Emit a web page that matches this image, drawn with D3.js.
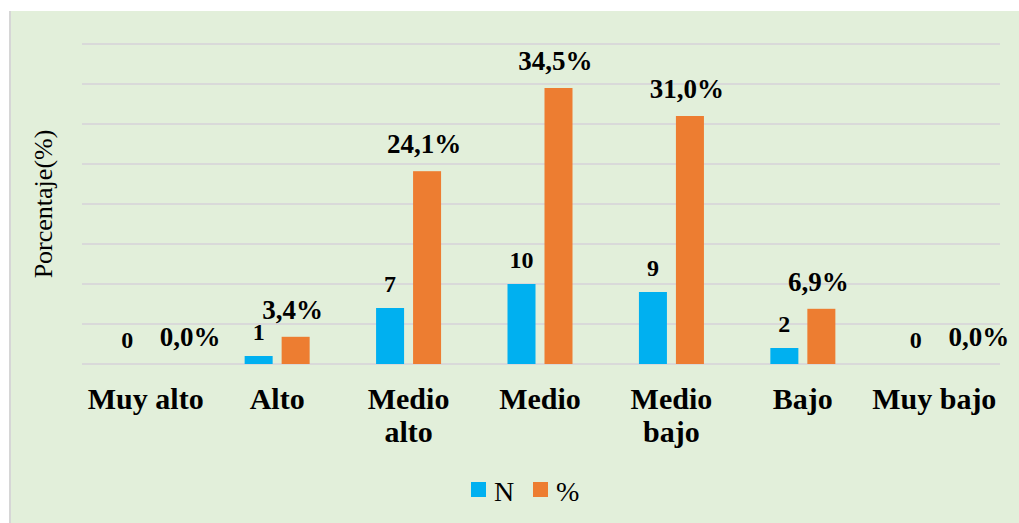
<!DOCTYPE html>
<html>
<head>
<meta charset="utf-8">
<script src="https://cdn.jsdelivr.net/npm/d3@7"></script>
<style>
  body { margin: 0; background: #fff; }
  text { font-family: "Liberation Serif", "Times New Roman", serif; fill: #000; }
</style>
</head>
<body>
<div id="chart"></div>
<script>
const categories = ["Muy alto", "Alto", "Medio alto", "Medio", "Medio bajo", "Bajo", "Muy bajo"];
const categoryLines = [["Muy alto"], ["Alto"], ["Medio", "alto"], ["Medio"], ["Medio", "bajo"], ["Bajo"], ["Muy bajo"]];
const nValues = [0, 1, 7, 10, 9, 2, 0];
const pctValues = [0, 3.4, 24.1, 34.5, 31.0, 6.9, 0];
const seriesNames = ["N", "%"];
const yTicks = [0, 5, 10, 15, 20, 25, 30, 35, 40];

const width = 1019;
const height = 523;

const svg = d3.select("#chart")
    .append("svg")
    .attr("width", width)
    .attr("height", height);

// chart area background
svg.append("rect")
    .attr("x", 9)
    .attr("y", 11)
    .attr("width", width - 9)
    .attr("height", height - 11)
    .attr("fill", "#e2efda");

svg.append("line")
    .attr("x1", 10).attr("x2", 10)
    .attr("y1", 11).attr("y2", height)
    .attr("stroke", "#d6d6d6")
    .attr("stroke-width", 2);

const x0 = d3.scaleBand()
    .domain(categories)
    .range([80, 1000]);

const x1 = d3.scaleBand()
    .domain(seriesNames)
    .range([x0.bandwidth() / 2 - 32.5, x0.bandwidth() / 2 + 32.5])
    .paddingInner(0.243);

const y = d3.scaleLinear()
    .domain([0, 40])
    .range([364, 44]);

const color = d3.scaleOrdinal()
    .domain(seriesNames)
    .range(["#00b0f0", "#ed7d31"]);

// gridlines
svg.append("g")
    .selectAll("line")
    .data(yTicks)
    .enter()
    .append("line")
    .attr("x1", 82)
    .attr("x2", 1000)
    .attr("y1", d => y(d))
    .attr("y2", d => y(d))
    .attr("stroke", "#d9d9d9")
    .attr("stroke-width", 2);

const rows = categories.map((c, i) => ({
    cat: c,
    values: [
        { key: "N", value: nValues[i] },
        { key: "%", value: pctValues[i] }
    ]
}));

const groups = svg.selectAll(".grp")
    .data(rows)
    .enter()
    .append("g")
    .attr("class", "grp")
    .attr("transform", d => `translate(${x0(d.cat)},0)`);

groups.selectAll("rect")
    .data(d => d.values)
    .enter()
    .append("rect")
    .attr("x", d => x1(d.key))
    .attr("width", x1.bandwidth())
    .attr("y", d => y(d.value))
    .attr("height", d => y(0) - y(d.value))
    .attr("fill", d => color(d.key));

const fmtPct = v => d3.format(".1f")(v).replace(".", ",") + "%";

groups.selectAll(".lbl")
    .data(d => d.values)
    .enter()
    .append("text")
    .attr("class", "lbl")
    .attr("text-anchor", "middle")
    .attr("font-weight", "bold")
    .attr("font-size", d => d.key === "N" ? "24px" : "27px")
    .attr("x", d => x1(d.key) + x1.bandwidth() / 2 + (d.key === "%" && d.value === 0 ? 29 : 0) - (d.key === "%" ? 3 : 0))
    .attr("y", d => y(d.value) - (d.key === "N" ? 16 : 18))
    .text(d => d.key === "N" ? d.value : fmtPct(d.value));

// category axis
const xAxis = svg.append("g")
    .attr("transform", "translate(0,364)")
    .call(d3.axisBottom(x0).tickSize(0).tickPadding(0));

xAxis.select(".domain").remove();

xAxis.selectAll(".tick text")
    .attr("font-family", "Liberation Serif, Times New Roman, serif")
    .attr("font-size", "30px")
    .attr("font-weight", "bold")
    .attr("fill", "#000")
    .attr("dy", null)
    .attr("y", 45)
    .text(null)
    .each(function(d) {
        const lines = categoryLines[categories.indexOf(d)];
        d3.select(this).selectAll("tspan")
            .data(lines)
            .enter()
            .append("tspan")
            .attr("x", 0)
            .attr("dy", (l, i) => i === 0 ? 0 : 33)
            .text(l => l);
    });

// y axis title
svg.append("text")
    .attr("transform", "translate(52,204) rotate(-90)")
    .attr("text-anchor", "middle")
    .attr("font-size", "26px")
    .text("Porcentaje(%)");

// legend
const legend = svg.append("g")
    .selectAll("g")
    .data(seriesNames)
    .enter()
    .append("g")
    .attr("transform", (d, i) => `translate(${471 + i * 62},482)`);

legend.append("rect")
    .attr("width", 15)
    .attr("height", 15)
    .attr("fill", d => color(d));

legend.append("text")
    .attr("x", 23)
    .attr("y", 19)
    .attr("font-size", "28px")
    .text(d => d);
</script>
</body>
</html>
